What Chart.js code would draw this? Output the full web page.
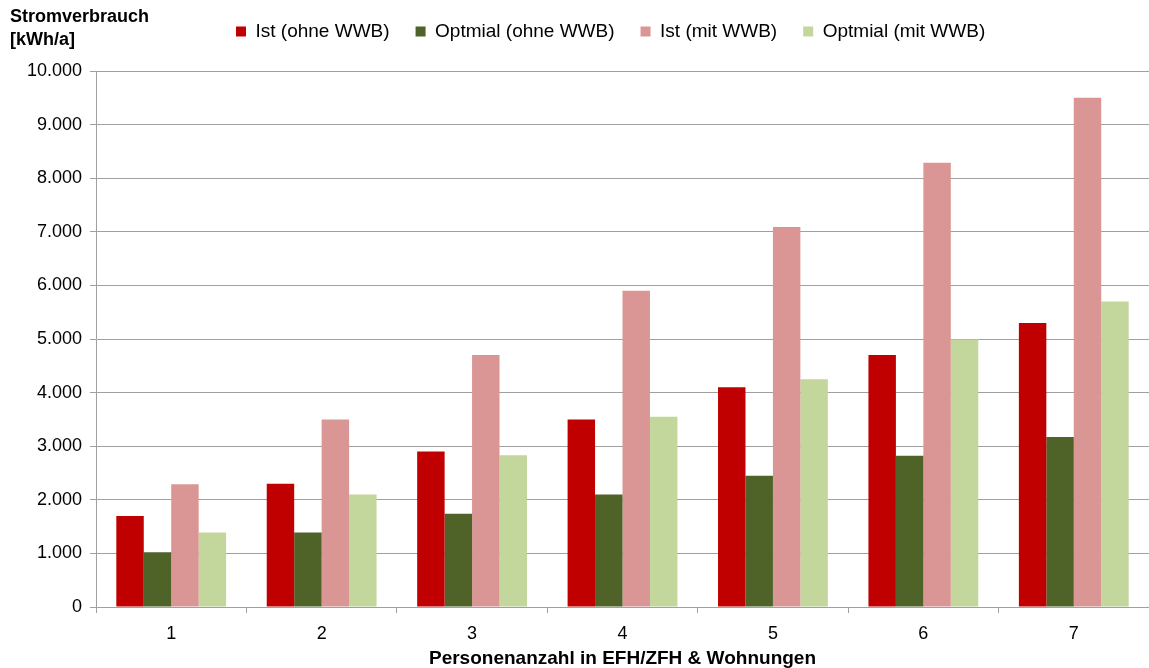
<!DOCTYPE html>
<html>
<head>
<meta charset="utf-8">
<script src="https://cdn.jsdelivr.net/npm/chart.js@4.4.1/dist/chart.umd.min.js"></script>
<style>
  html, body { margin: 0; padding: 0; background: #fff; }
  #wrap { width: 1149px; height: 668px; }
</style>
</head>
<body>
<div id="wrap"><canvas id="chart" width="1149" height="668"></canvas></div>
<script>
const categories = ['1', '2', '3', '4', '5', '6', '7'];
const istOhne = [1700, 2300, 2900, 3500, 4100, 4700, 5300];
const optOhne = [1020, 1390, 1740, 2100, 2450, 2820, 3170];
const istMit = [2290, 3500, 4700, 5900, 7090, 8290, 9500];
const optMit = [1390, 2100, 2830, 3550, 4250, 4990, 5700];
const yTitleLines = ['Stromverbrauch', '[kWh/a]'];
const xTitle = 'Personenanzahl in EFH/ZFH & Wohnungen';

const FONT = "'Liberation Sans', Arial, sans-serif";

// thousands separator like the original (10.000)
const fmt = v => String(v).replace(/\B(?=(\d{3})+(?!\d))/g, '.');

const cornerTitle = {
  id: 'cornerTitle',
  afterDraw(chart) {
    const ctx = chart.ctx;
    ctx.save();
    ctx.font = `bold 18px ${FONT}`;
    ctx.fillStyle = '#000';
    ctx.textBaseline = 'middle';
    ctx.textAlign = 'left';
    ctx.fillText(yTitleLines[0], 10, 17);
    ctx.fillText(yTitleLines[1], 10, 40);
    ctx.restore();
  }
};

// legend sits right of the corner title, not centered
const legendShift = {
  id: 'legendShift',
  beforeInit(chart) {
    const orig = chart.legend.fit;
    chart.legend.fit = function () {
      orig.call(this);
      this.height = 71;
    };
  },
  afterLayout(chart) {
    const lg = chart.legend;
    const pad = lg.options.labels.padding;
    const w = lg.right - lg.left;
    lg.left = 236 - pad;
    lg.right = lg.left + w;
    lg.top = 32 - pad - 10;
  }
};

new Chart(document.getElementById('chart'), {
  type: 'bar',
  data: {
    labels: categories,
    datasets: [
      { label: 'Ist (ohne WWB)', data: istOhne, backgroundColor: '#C00000' },
      { label: 'Optmial (ohne WWB)', data: optOhne, backgroundColor: '#4F6228' },
      { label: 'Ist (mit WWB)', data: istMit, backgroundColor: '#D99694' },
      { label: 'Optmial (mit WWB)', data: optMit, backgroundColor: '#C3D69B' }
    ]
  },
  options: {
    responsive: false,
    animation: false,
    devicePixelRatio: 1,
    layout: { padding: { left: 0, right: 0, top: 0, bottom: 0 } },
    datasets: {
      bar: { categoryPercentage: 0.73, barPercentage: 1.0, borderWidth: 0 }
    },
    plugins: {
      legend: {
        position: 'top',
        align: 'start',
        labels: {
          boxWidth: 10,
          boxHeight: 10,
          padding: 26,
          color: '#000',
          font: { family: FONT, size: 19 }
        }
      },
      tooltip: { enabled: false }
    },
    scales: {
      x: {
        grid: {
          offset: true,
          drawOnChartArea: false,
          tickLength: 6,
          color: '#a0a0a0'
        },
        border: { color: '#a0a0a0' },
        ticks: {
          color: '#000',
          padding: 12,
          font: { family: FONT, size: 18, lineHeight: 1.0 }
        },
        title: {
          display: true,
          text: xTitle,
          color: '#000',
          padding: { top: -6, bottom: 0 },
          font: { family: FONT, size: 19, weight: 'bold', lineHeight: 1.0 }
        }
      },
      y: {
        min: 0,
        max: 10000,
        afterFit(scale) { scale.width = 96; },
        grid: {
          color: '#a0a0a0',
          tickLength: 6
        },
        border: { color: '#a0a0a0' },
        ticks: {
          stepSize: 1000,
          color: '#000',
          padding: 8,
          font: { family: FONT, size: 18 },
          callback: v => fmt(v)
        }
      }
    }
  },
  plugins: [cornerTitle, legendShift]
});
</script>
</body>
</html>
